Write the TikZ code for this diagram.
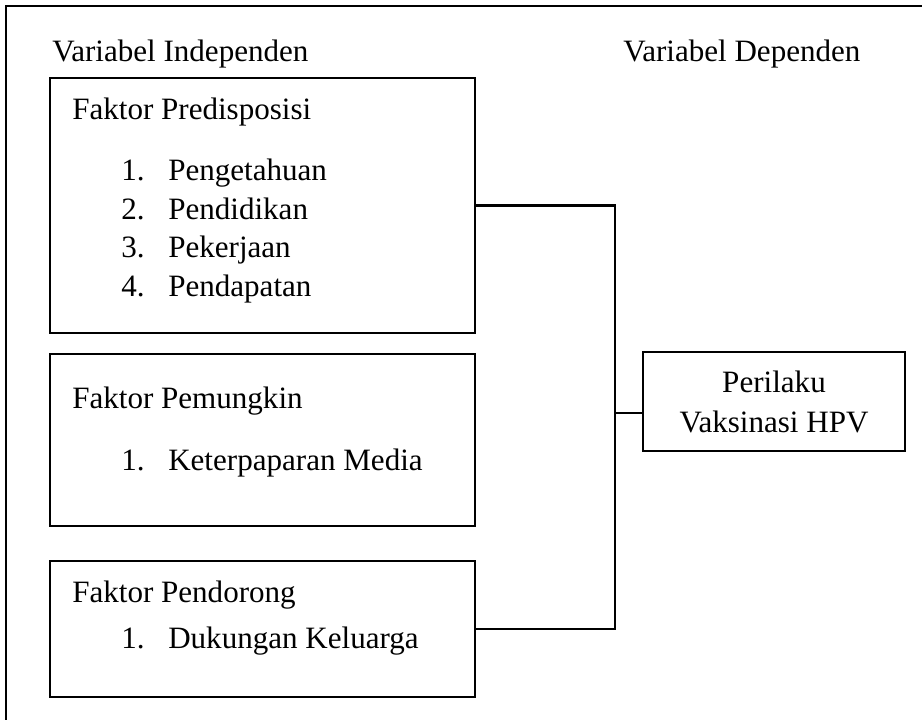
\documentclass[tikz,border=0pt]{standalone}
\usepackage{fontspec}
\setmainfont{Liberation Serif}
\begin{document}
\begin{tikzpicture}[x=0.75pt,y=-0.75pt,
  txt/.style={inner sep=0pt,anchor=base west,font=\fontsize{23.3}{30}\selectfont},
  fbox/.style={draw,line width=2pt,minimum width=425*0.75pt,inner sep=0pt},
  conn/.style={line width=2pt},
  frame/.style={line width=1.2pt}]
\useasboundingbox (0,0) rectangle (922,720);
\fill[white] (0,0) rectangle (922,720);
\coordinate (fa) at (6,720);
\coordinate (fb) at (6,6);
\coordinate (fc) at (922,6);
\draw[frame] (fa) -- (fb) -- (fc);
% boxes
\node[fbox,minimum height=255*0.75pt] (b1) at (262.5,205.5) {};
\node[fbox,minimum height=172*0.75pt] (b2) at (262.5,440) {};
\node[fbox,minimum height=136*0.75pt] (b3) at (262.5,629) {};
\node[draw,line width=2pt,minimum width=262*0.75pt,minimum height=99*0.75pt,inner sep=0pt,
  align=center,font=\fontsize{23.3}{30}\selectfont] (rb) at (774,401.5) {Perilaku\\Vaksinasi HPV};
% headers
\node[txt] (h1) at (52,62) {Variabel Independen};
\node[txt] (h2) at (623,62) {Variabel Dependen};
% box1 text
\node[txt] (t1) at (72,120) {Faktor Predisposisi};
\node[txt] (n11) at (121,180.5) {1.};
\node[txt] (i11) at (168,180.5) {Pengetahuan};
\node[txt] (n12) at (121,219.5) {2.};
\node[txt] (i12) at (168,219.5) {Pendidikan};
\node[txt] (n13) at (121,258) {3.};
\node[txt] (i13) at (168,258) {Pekerjaan};
\node[txt] (n14) at (121,297) {4.};
\node[txt] (i14) at (168,297) {Pendapatan};
% box2 text
\node[txt] (t2) at (72,409) {Faktor Pemungkin};
\node[txt] (n21) at (121,471) {1.};
\node[txt] (i21) at (168,471) {Keterpaparan Media};
% box3 text
\node[txt] (t3) at (72,602) {Faktor Pendorong};
\node[txt] (n31) at (121,648) {1.};
\node[txt] (i31) at (168,648) {Dukungan Keluarga};
% connectors
\coordinate (j) at (615,413);
\draw[conn] (b1.east) -| (j) |- (b3.east);
\draw[conn] (j) -- (rb.west |- j);
\end{tikzpicture}
\end{document}
